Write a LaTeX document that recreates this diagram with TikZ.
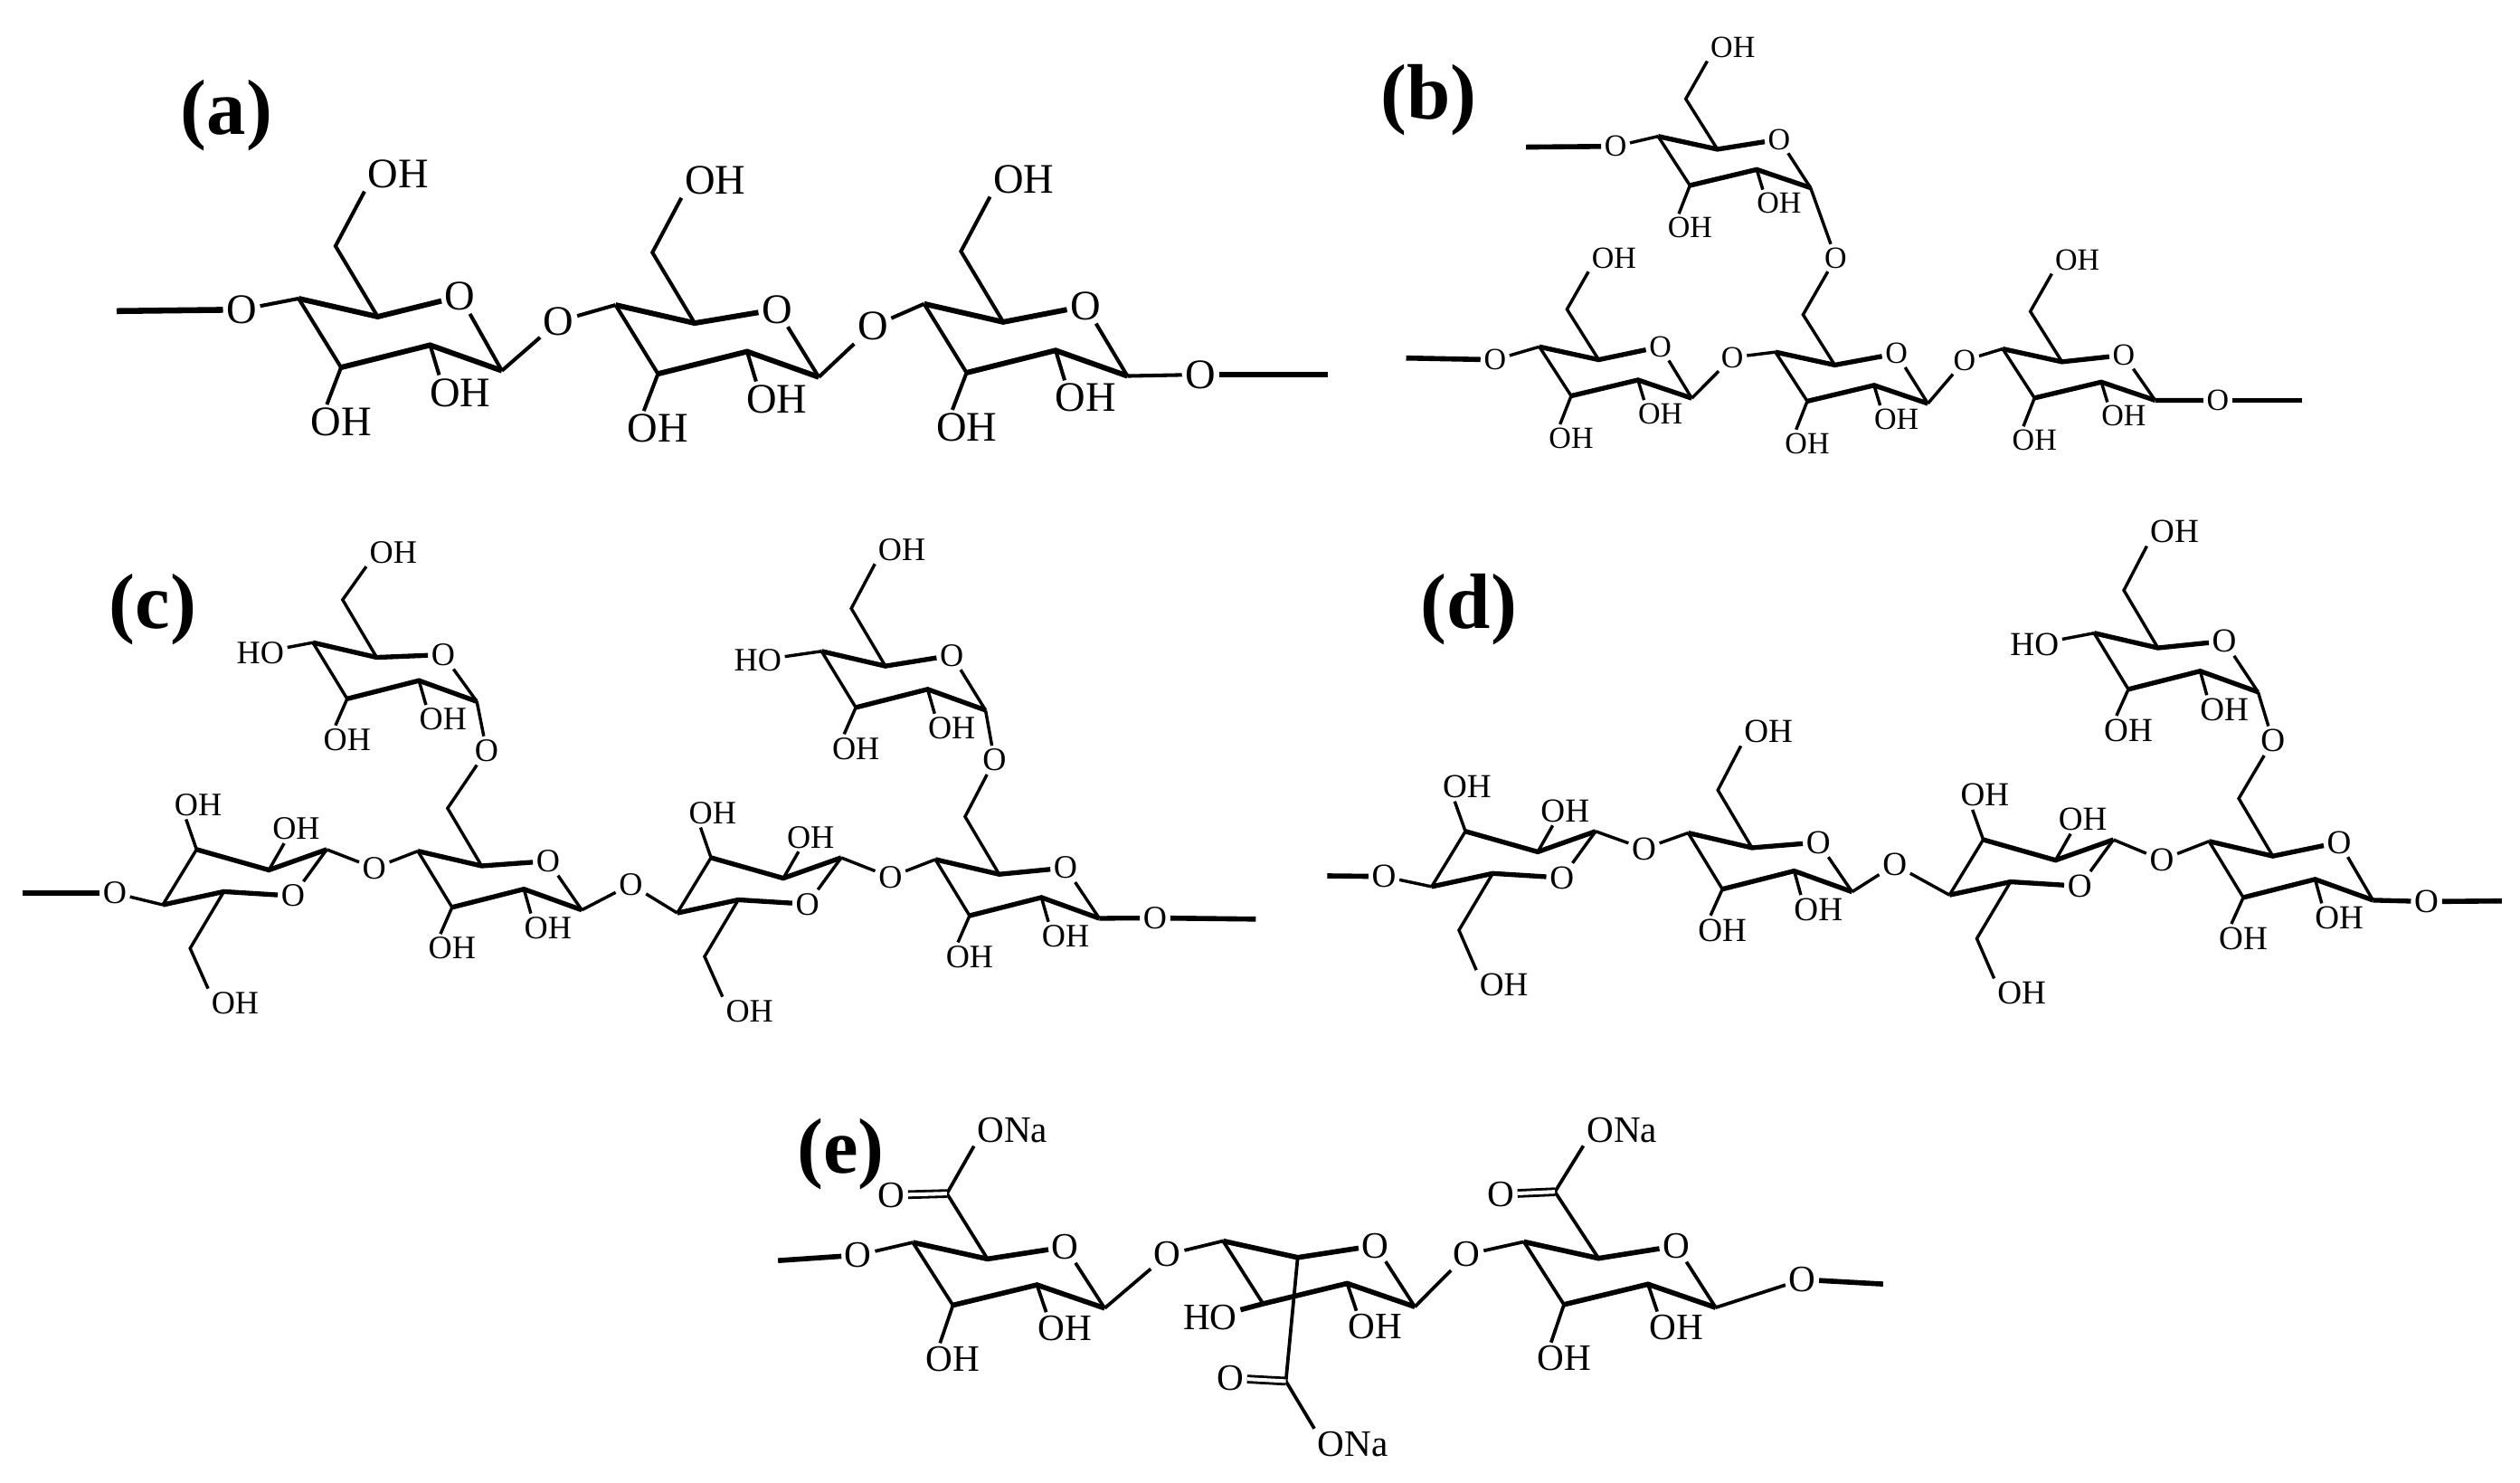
\documentclass[tikz,border=0pt]{standalone}
\usepackage{fontspec}
\setmainfont{Liberation Serif}

\tikzset{
  bond/.style={line width=1.1pt},
  bold/.style={line width=1.7pt},
  tail/.style={line width=1.8pt},
  atom/.style={font=\fontsize{11.6}{12}\selectfont, inner sep=1pt},
  letter/.style={font=\fontsize{27.8}{28}\selectfont\bfseries, inner sep=0pt},
  dbl/.style={line width=0.9pt, double, double distance=1.3pt}
}

% how far the lower OH hangs under a ring
\newcommand{\lowoh}{58.5}

% #1 id, #2 #3 left corner, #4 #5 scales, #6 height of the ring oxygen
\newcommand{\ringbase}[6]{
  \begin{scope}[shift={(#2,#3)}, xscale=#4, yscale=#5]
    \coordinate (#1tl) at (0,0);
    \coordinate (#1tm) at (39.7,8.3);
    \node[atom] (#1o) at (81,#6) {O};
    \coordinate (#1br) at (102,33);
    \coordinate (#1bm) at (66,21.3);
    \coordinate (#1bl) at (21.3,31.5);
    \coordinate (#1ch) at (18.5,-24);
    \coordinate (#1tp) at (50,-57);
    \coordinate (#1pb) at (21.3,\lowoh);
    \coordinate (#1pm) at (81,43);
  \end{scope}
  \draw[bold] (#1tl) -- (#1tm) -- (#1o);
  \draw[bold] (#1br) -- (#1bm) -- (#1bl);
  \draw[bond] (#1o) -- (#1br);
  \draw[bond] (#1bl) -- (#1tl);
}

\newcommand{\sugar}[6]{
  \ringbase{#1}{#2}{#3}{#4}{#5}{#6}
  \node[atom] (#1ob) at (#1pb) {OH};
  \node[atom] (#1om) at (#1pm) {OH};
  \draw[bond] (#1bl) -- (#1ob.129);
  \draw[bond] (#1bm) -- (#1om.140);
}

% the ring that lies the other way round
\newcommand{\flipsugar}[5]{
  \begin{scope}[shift={(#2,#3)}, xscale=#4, yscale=#5]
    \coordinate (#1tl) at (0,0);
    \coordinate (#1tm) at (45,11.5);
    \coordinate (#1tr) at (81,0);
    \node[atom] (#1o) at (60,26) {O};
    \coordinate (#1bm) at (17,23.6);
    \coordinate (#1bl) at (-21,31);
    \coordinate (#1ch) at (-4,55.4);
    \node[atom] (#1oa) at (1,-25) {OH};
    \node[atom] (#1ob) at (62,-11.5) {OH};
    \node[atom] (#1oc) at (24,86) {OH};
  \end{scope}
  \draw[bold] (#1tl) -- (#1tm) -- (#1tr);
  \draw[bold] (#1o) -- (#1bm) -- (#1bl);
  \draw[bond] (#1tr) -- (#1o);
  \draw[bond] (#1bl) -- (#1tl);
  \draw[bond] (#1tl) -- (#1oa.230);
  \draw[bond] (#1tm) -- (#1ob.230);
  \draw[bond] (#1bm) -- (#1ch) -- (#1oc.north west);
}

% the CH2OH that stands on top of a ring
\newcommand{\sidearm}[2][0pt]{
  \node[atom, yshift=#1] (#2oh) at (#2tp) {OH};
  \draw[bond] (#2tm) -- (#2ch) -- (#2oh.south west);
}

\begin{document}
\begin{tikzpicture}[x=0.02cm, y=-0.02cm]
  \useasboundingbox (0,0) rectangle (1568,922);

  \node[letter] (la) at (141,72) {(a)};
  \node[letter] (lb) at (889,62) {(b)};
  \node[letter] (lc) at (95,379) {(c)};
  \node[letter] (ld) at (914,379) {(d)};
  \node[letter] (le) at (523,718) {(e)};

  % (a)
  \begin{scope}[bond/.style={line width=1.3pt}, bold/.style={line width=1.9pt}, tail/.style={line width=2.1pt},
      atom/.style={font=\fontsize{14.9}{15}\selectfont, inner sep=1pt}]
    \renewcommand{\lowoh}{56.5}
    \sugar{a1}{185.8}{185.7}{1.24}{1.36}{-1}
    \sugar{a2}{383}{189.7}{1.24}{1.36}{2}
    \sugar{a3}{575}{189}{1.24}{1.36}{1}
    \sidearm{a1}
    \sidearm{a2}
    \sidearm{a3}
    \coordinate (as) at (72.6,193.5);
    \coordinate (ae) at (826,233);
    \node[atom] (ao1) at (150.3,192.6) {O};
    \node[atom] (ao2) at (347.6,199.8) {O};
    \node[atom] (ao3) at (543,203) {O};
    \node[atom] (ao4) at (747,233) {O};
    \draw[tail] (as) -- (ao1);
    \draw[bond] (ao1) -- (a1tl);
    \draw[bond] (a1br) -- (ao2) -- (a2tl);
    \draw[bond] (a2br) -- (ao3) -- (a3tl);
    \draw[bond] (a3br) -- (ao4);
    \draw[tail] (ao4) -- (ae);
  \end{scope}

  % (b)
  \begin{scope}[atom/.style={font=\fontsize{10.9}{11}\selectfont, inner sep=1pt}]
    \sugar{b0}{1031.7}{84.8}{0.93}{0.97}{2}
    \sugar{b1}{957.8}{215.7}{0.93}{0.97}{0}
    \sugar{b2}{1104.7}{219}{0.93}{0.97}{1}
    \sugar{b3}{1246.1}{217}{0.93}{0.97}{4}
    \sidearm{b0}
    \sidearm{b1}
    \sidearm{b3}
    \coordinate (bs1) at (949.5,91.5);
    \coordinate (bs2) at (874.9,222.7);
    \coordinate (be) at (1432.5,249.1);
    \node[atom] (bo0) at (1005.2,91) {O};
    \node[atom] (bo1) at (930.2,223.8) {O};
    \node[atom] (bo2) at (1077.9,222.3) {O};
    \node[atom] (bo3) at (1222.4,224.2) {O};
    \node[atom] (bo4) at (1142.2,160.4) {O};
    \node[atom] (bo5) at (1380,249.1) {O};
    \draw[tail] (bs1) -- (bo0);
    \draw[bond] (bo0) -- (b0tl);
    \draw[bond] (b0br) -- (bo4) -- (b2ch) -- (b2tm);
    \draw[tail] (bs2) -- (bo1);
    \draw[bond] (bo1) -- (b1tl);
    \draw[bond] (b1br) -- (bo2) -- (b2tl);
    \draw[bond] (b2br) -- (bo3) -- (b3tl);
    \draw[bold] (b3br) -- (bo5);
    \draw[tail] (bo5) -- (be);
  \end{scope}

  % (c)
  \begin{scope}
    \renewcommand{\lowoh}{54.5}
    \sugar{ca}{194.7}{399.7}{1}{1.11}{6.8}
    \sugar{cb}{511.2}{405.1}{1}{1.11}{2.3}
    \flipsugar{c1}{122.3}{528.4}{1}{1.11}
    \sugar{c2}{260}{529.4}{1}{1.11}{5.6}
    \flipsugar{c3}{442.4}{533.5}{1}{1.11}
    \sugar{c4}{582}{534.6}{1}{1.11}{4.7}
    \sidearm[-4pt]{ca}
    \sidearm{cb}
    \coordinate (cs) at (13.8,555.5);
    \coordinate (ce) at (781.4,571.7);
    \node[atom] (cha) at (162,405.9) {HO};
    \node[atom] (chb) at (471.5,410.8) {HO};
    \node[atom] (co1) at (71.4,555.5) {O};
    \node[atom] (co2) at (232.9,539.9) {O};
    \node[atom] (co3) at (392.5,550.2) {O};
    \node[atom] (co4) at (554,545.5) {O};
    \node[atom] (co5) at (718.7,571) {O};
    \node[atom] (co6) at (302.8,466.9) {O};
    \node[atom] (co7) at (618.8,472.8) {O};
    \draw[bond] (catl) -- (cha);
    \draw[bond] (cbtl) -- (chb);
    \draw[tail] (cs) -- (co1);
    \draw[bond] (co1) -- (c1bl);
    \draw[bond] (c1tr) -- (co2) -- (c2tl);
    \draw[bond] (c2br) -- (co3) -- (c3bl);
    \draw[bond] (c3tr) -- (co4) -- (c4tl);
    \draw[bold] (c4br) -- (co5);
    \draw[tail] (co5) -- (ce);
    \draw[bond] (cabr) -- (co6) -- (c2ch) -- (c2tm);
    \draw[bond] (cbbr) -- (co7) -- (c4ch) -- (c4tm);
  \end{scope}

  % (d)
  \begin{scope}[atom/.style={font=\fontsize{11.9}{12}\selectfont, inner sep=1pt}]
    \renewcommand{\lowoh}{54.5}
    \sugar{da}{1303}{393.8}{1}{1.11}{4.5}
    \flipsugar{d1}{911.8}{517.1}{1}{1.11}
    \sugar{d2}{1050.4}{518.1}{1}{1.11}{5.3}
    \flipsugar{d3}{1234}{522.3}{1}{1.11}
    \sugar{d4}{1374.5}{523.3}{1}{1.11}{0.6}
    \sidearm{da}
    \sidearm{d2}
    \coordinate (ds) at (825.9,544.8);
    \coordinate (de) at (1556.6,560.4);
    \node[atom] (dha) at (1265.9,400.9) {HO};
    \node[atom] (do1) at (861.1,545.2) {O};
    \node[atom] (do2) at (1022.9,527.9) {O};
    \node[atom] (do3) at (1178.9,537.9) {O};
    \node[atom] (do4) at (1345.1,534.8) {O};
    \node[atom] (do5) at (1509.8,560.8) {O};
    \node[atom] (do6) at (1414.2,460.8) {O};
    \draw[bond] (datl) -- (dha);
    \draw[tail] (ds) -- (do1);
    \draw[bond] (do1) -- (d1bl);
    \draw[bond] (d1tr) -- (do2) -- (d2tl);
    \draw[bond] (d2br) -- (do3) -- (d3bl);
    \draw[bond] (d3tr) -- (do4) -- (d4tl);
    \draw[bold] (d4br) -- (do5);
    \draw[tail] (do5) -- (de);
    \draw[bond] (dabr) -- (do6) -- (d4ch) -- (d4tm);
  \end{scope}

  % (e)
  \begin{scope}[bond/.style={line width=1.2pt}, bold/.style={line width=1.8pt},
      atom/.style={font=\fontsize{13.2}{14}\selectfont, inner sep=1pt}]
    \sugar{e1}{568}{772.8}{1.17}{1.24}{2.3}
    \ringbase{e2}{761}{771.9}{1.17}{1.24}{2.3}
    \sugar{e3}{948.2}{772.4}{1.17}{1.24}{2.1}
    \node[atom] (e2om) at (e2pm) {OH};
    \node[atom] (e2ho) at (753,819.7) {HO};
    \draw[bond] (e2bm) -- (e2om.140);
    \draw[bold] (e2bl) -- (e2ho);
    \coordinate (es) at (484.1,784.1);
    \coordinate (ee) at (1171.7,798.7);
    \coordinate (ec1) at (589.2,742.4);
    \coordinate (ec2) at (800.1,859.1);
    \coordinate (ec3) at (967.5,741.3);
    \node[atom] (eo1) at (534,780.7) {O};
    \node[atom] (eo2) at (726.5,780.3) {O};
    \node[atom] (eo3) at (912.7,780.3) {O};
    \node[atom] (eo4) at (1121.4,795.9) {O};
    \node[atom] (ed1) at (554.6,743.4) {O};
    \node[atom] (ed2) at (765.5,857.2) {O};
    \node[atom] (ed3) at (933.8,742.8) {O};
    \node[atom] (en1) at (630,703) {ONa};
    \node[atom] (en2) at (841.8,898.5) {ONa};
    \node[atom] (en3) at (1009.2,702.8) {ONa};
    \draw[tail] (es) -- (eo1);
    \draw[bond] (eo1) -- (e1tl);
    \draw[bond] (e1br) -- (eo2) -- (e2tl);
    \draw[bond] (e2br) -- (eo3) -- (e3tl);
    \draw[bond] (e3br) -- (eo4);
    \draw[tail] (eo4) -- (ee);
    \draw[bond] (e1tm) -- (ec1) -- (en1.south west);
    \draw[bond] (e2tm) -- (ec2) -- (en2.north west);
    \draw[bond] (e3tm) -- (ec3) -- (en3.south west);
    \draw[dbl] (ec1) -- (ed1);
    \draw[dbl] (ec2) -- (ed2);
    \draw[dbl] (ec3) -- (ed3);
  \end{scope}
\end{tikzpicture}
\end{document}
